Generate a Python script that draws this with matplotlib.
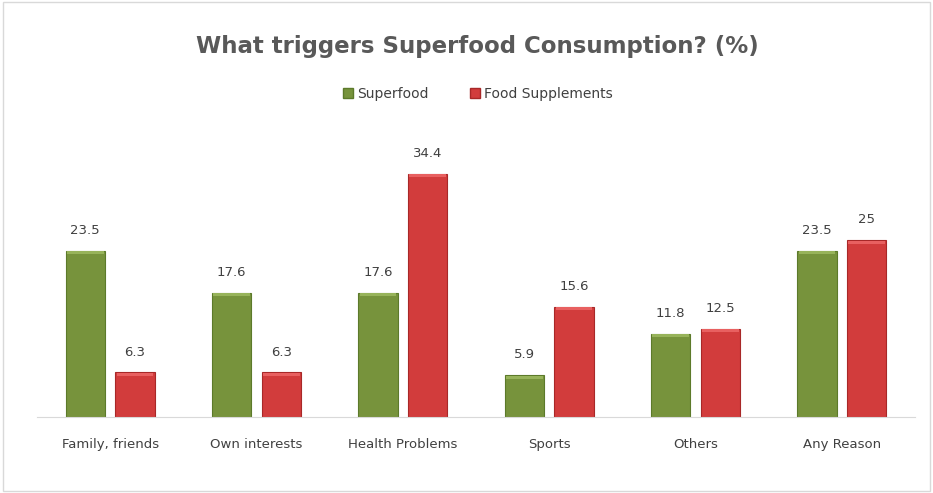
import numpy as np
import matplotlib.pyplot as plt
from matplotlib.patches import Patch, Rectangle

categories = ['Family, friends', 'Own interests', 'Health Problems', 'Sports', 'Others', 'Any Reason']
superfood = [23.5, 17.6, 17.6, 5.9, 11.8, 23.5]
supplements = [6.3, 6.3, 34.4, 15.6, 12.5, 25]
value_labels_sf = ['23.5', '17.6', '17.6', '5.9', '11.8', '23.5']
value_labels_fs = ['6.3', '6.3', '34.4', '15.6', '12.5', '25']

green = '#77933c'
red = '#d23c3c'
txt = '#404040'

plt.rcParams['font.family'] = ['DejaVu Sans']

fig = plt.figure(figsize=(9.33, 4.93), dpi=100)
ax = fig.add_axes([37 / 933, 76 / 493, 878 / 933, 0.57])

x = np.arange(len(categories))
w = 0.27
b1 = ax.bar(x - 0.17, superfood, w, color=green, edgecolor='#5c7a2a', linewidth=0.8)
b2 = ax.bar(x + 0.17, supplements, w, color=red, edgecolor='#a82828', linewidth=0.8)

# light strip on top of each bar, like the bevel in the original
for bars, c in [(b1, '#97b35a'), (b2, '#e86060')]:
    for r in bars:
        ax.add_patch(Rectangle((r.get_x() + 0.01, r.get_height() - 0.5), r.get_width() - 0.02, 0.45,
                               color=c, linewidth=0))

for bars, labs in [(b1, value_labels_sf), (b2, value_labels_fs)]:
    for r, lab in zip(bars, labs):
        ax.annotate(lab, (r.get_x() + r.get_width() / 2, r.get_height()),
                    xytext=(0, 10), textcoords='offset points',
                    ha='center', va='bottom', fontsize=9.5, color=txt)

ax.set_xlim(-0.5, 5.5)
ax.set_ylim(0, 34.4 * 1.04 / 0.9)
ax.set_xticks(x)
ax.set_xticklabels(categories, fontsize=9.5, color=txt)
ax.tick_params(axis='x', length=0, pad=15)
ax.set_yticks([])
for s in ['top', 'right', 'left']:
    ax.spines[s].set_visible(False)
ax.spines['bottom'].set_color('#d9d9d9')

fig.text(0.512, 0.905, 'What triggers Superfood Consumption? (%)', ha='center', va='center',
         fontsize=16.5, fontweight='bold', color='#595959')

handles = [Patch(facecolor=green, edgecolor='#5c7a2a'), Patch(facecolor=red, edgecolor='#a82828')]
fig.legend(handles, ['Superfood', 'Food Supplements'], loc='center', bbox_to_anchor=(0.512, 0.81),
           ncol=2, frameon=False, fontsize=10, handlelength=0.7, handleheight=0.7,
           handletextpad=0.3, columnspacing=3.0, labelcolor=txt)

fig.patches.append(Rectangle((0.003, 0.005), 0.994, 0.99, transform=fig.transFigure,
                             fill=False, edgecolor='#d9d9d9', linewidth=1))

fig.savefig('out.png', dpi=100)
